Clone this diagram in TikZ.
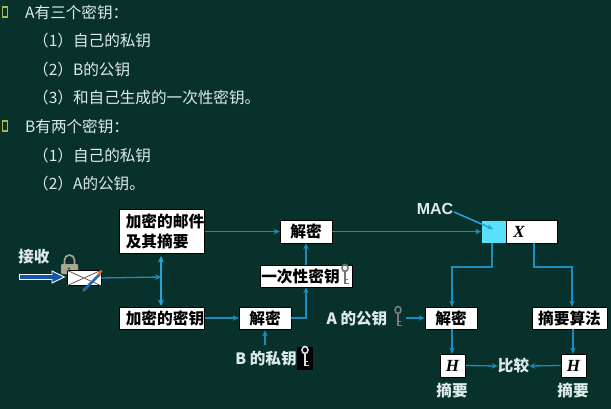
\documentclass[tikz,border=0pt]{standalone}
\usepackage{fontspec}
\setmainfont{Noto Sans CJK SC}
\usetikzlibrary{arrows.meta}
\definecolor{bgc}{HTML}{09312C}
\definecolor{linec}{HTML}{1A8DBE}
\definecolor{txtc}{HTML}{DCEBE8}
\definecolor{bul}{HTML}{A8B850}
\definecolor{brightl}{HTML}{22A5DC}
\definecolor{lockc}{HTML}{A8A890}
\tikzset{
  x=1pt,y=-1pt,
  wbox/.style={draw=black,line width=.6pt,fill=white,text=black,inner sep=0pt,font=\fontsize{15.7}{20}\selectfont\bfseries,align=left},
  lab/.style={text=txtc,inner sep=0pt,yshift=-1pt,font=\fontsize{15.6}{18}\selectfont\bfseries},
  listt/.style={text=txtc,inner sep=0pt,anchor=west,yshift=-1pt,font=\fontsize{15.6}{18}\selectfont},
  bulletm/.style={draw=bul,line width=1.2pt,fill=bgc,minimum width=4.5pt,minimum height=10pt,inner sep=0pt},
  conn/.style={draw=linec,line width=1.3pt,-{Stealth[length=6pt,width=5.5pt]}},
  brightc/.style={draw=brightl,line width=1.5pt},
  keyi/.style={draw=#1,line width=1.6pt}
}
\newcommand{\keyicon}[3]{%
 \begin{scope}[shift={(#1,#2)}]
  \draw[keyi=#3] (0,-7) circle (3 and 3.5);
  \draw[keyi=#3] (0,-3.5) -- (0,9) (0,8.5) -- (3.5,8.5) (0,4.5) -- (3,4.5);
 \end{scope}}
\begin{document}
\begin{tikzpicture}
\useasboundingbox (0,0) rectangle (611,409);
\fill[bgc] (0,0) rectangle (611,409);
% list
\node[bulletm] (b1) at (5,12) {};
\node[listt] (t1) at (25,12) {A有三个密钥：};
\node[listt] (t2) at (33,40) {（1）自己的私钥};
\node[listt] (t3) at (33,69) {（2）B的公钥};
\node[listt] (t4) at (33,97) {（3）和自己生成的一次性密钥。};
\node[bulletm] (b2) at (5,126) {};
\node[listt] (t5) at (25,126) {B有两个密钥：};
\node[listt] (t6) at (33,155) {（1）自己的私钥};
\node[listt] (t7) at (33,183) {（2）A的公钥。};
% boxes
\node[wbox,minimum width=85pt,minimum height=44pt] (mail) at (162,231) {\hspace*{6pt}加密的邮件\\\hspace*{6pt}及其摘要\hfill};
\node[wbox,minimum width=85pt,minimum height=22pt] (enckey) at (162,318) {\hspace*{6pt}加密的密钥};
\node[wbox,minimum width=52pt,minimum height=23pt] (dec1) at (306,231.5) {解密};
\node[wbox,minimum width=92pt,minimum height=22pt] (otk) at (306,276) {一次性密钥\hspace{11pt}};
\node[wbox,minimum width=52pt,minimum height=22pt] (dec2) at (265,318) {解密};
\node[wbox,draw=bgc,fill={rgb,255:red,90;green,225;blue,250},minimum width=25pt,minimum height=23pt] (mac) at (494,231.5) {};
\node[wbox,minimum width=51pt,minimum height=23pt] (x) at (532,231.5) {\fontsize{17}{20}\selectfont\fontspec{Liberation Serif}\bfseries\itshape X\hspace{26pt}};
\node[wbox,minimum width=52pt,minimum height=22pt] (dec3) at (451,318) {解密};
\node[wbox,minimum width=75pt,minimum height=22pt] (alg) at (569.5,318) {摘要算法};
\node[wbox,minimum width=25pt,minimum height=23pt] (h1) at (452.5,365.5) {\fontsize{17}{20}\selectfont\fontspec{Liberation Serif}\bfseries\itshape H};
\node[wbox,minimum width=25pt,minimum height=23pt] (h2) at (573.5,365.5) {\fontsize{17}{20}\selectfont\fontspec{Liberation Serif}\bfseries\itshape H};
% labels
\node[lab] (recv) at (34,256) {接收};
\node[lab,font=\fontsize{16}{18}\selectfont\bfseries] (macl) at (435,208) {\fontspec{Liberation Sans}MAC};
\node[lab] (bkey) at (266,358) {B 的私钥};
\node[lab] (akey) at (357,318) {A 的公钥};
\node[lab] (cmp) at (513.5,365) {比较};
\node[lab] (d1) at (452,389) {摘要};
\node[lab] (d2) at (573,389) {摘要};
% coordinates
\coordinate (junc) at (161,277);
\coordinate (jtop) at (161,256);
\coordinate (jbot) at (161,306);
\coordinate (mcs) at (492,243);
\coordinate (ml) at (452,267);
\coordinate (mr) at (572,267);
\coordinate (xs) at (534,243);
\coordinate (macs) at (454,212);
\coordinate (mact) at (493,229);
\coordinate (bkt) at (265,345);
\coordinate (akt) at (406,318);
\coordinate (d3b) at (452,329);
\coordinate (algb) at (573,329);
% mail icon
\fill[rounded corners=1pt,fill=lockc] (61,264) rectangle (78,274);
\draw[line width=1.6pt,draw=lockc] (64.5,265) -- (64.5,260) arc (180:360:5) -- (74.5,265);
\node[draw=black,fill=white,line width=.8pt,minimum width=34pt,minimum height=15pt,inner sep=0pt] (env) at (84,278) {};
\fill[black!70] (69,268.5) circle (1.3);
\draw[black!70,line width=.7pt] (env.north west) -- (env.center) -- (env.north east) (env.south west) -- (env.center) -- (env.south east);
\draw[line width=2.6pt,draw={rgb,255:red,40;green,100;blue,190}] (85,289) -- (100,274);
\fill[black!60] (82.5,291.5) -- (86,290.5) -- (83.5,288) -- cycle;
\fill[orange!80!red] (98.5,275.5) -- (102.5,271.5) -- (101,270) -- (97,274) -- cycle;
% thick arrow
\filldraw[draw=white,line width=.9pt,fill={rgb,255:red,20;green,85;blue,170}] (19.5,274.5) -- (52,274.5) -- (52,271) -- (64.5,277) -- (52,283) -- (52,279.5) -- (19.5,279.5) -- cycle;
% connectors
\draw[conn] (env.east) -- (junc);
\draw[brightc,{Stealth[length=6.5pt,width=6pt]}-{Stealth[length=6.5pt,width=6pt]}] (jtop) -- (jbot);
\draw[conn] (mail.east |- dec1) -- (dec1.west);
\draw[conn] (enckey.east) -- (dec2.west);
\draw[conn] (bkt) -- ([yshift=-1pt]dec2.south);
\draw[conn] (dec2.east) -| (otk.south);
\draw[conn] (otk.north) -- (dec1.south);
\draw[conn] (dec1.east) -- (mac.west);
\draw[conn,brightc] (macs) -- (mact);
\draw[conn] (mcs) |- (ml) -- (dec3.north -| ml);
\draw[conn] (xs) |- (mr) -- (alg.north -| mr);
\draw[conn] (d3b) -- (h1.north -| d3b);
\draw[conn] (algb) -- (h2.north -| algb);
\draw[conn] (h1.east) -- (cmp.west);
\draw[conn] (h2.west) -- (cmp.east);
\draw[conn] (akt) -- (dec3.west);
% keys
\keyicon{398}{317}{black!5!gray}
\keyicon{345}{275}{black!55}
\fill[black] (297,347) rectangle (313,370);
\keyicon{305}{357}{white!75!gray}
\end{tikzpicture}
\end{document}
